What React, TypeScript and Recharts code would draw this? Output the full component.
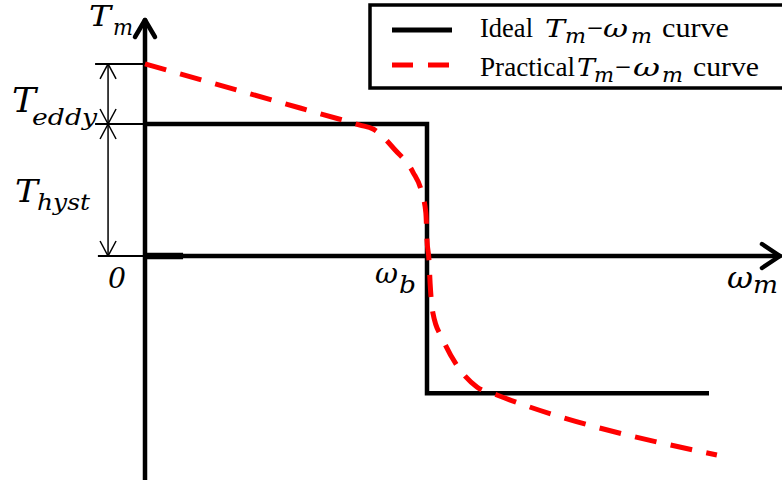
import { ComposedChart, Line, XAxis, YAxis, ReferenceLine, ReferenceDot, Legend } from 'recharts'

const W = 782
const H = 485

// origin position in the frame and the length of one unit on each axis (px)
const X0 = 145
const Y0 = 256
const XU = 282
const YU = 132

// ideal torque-speed curve: constant torque up to ω_b, then reversed
const idealW = [0, 1, 1, 2]
const idealT = [1, 1, -1.04, -1.04]

// practical curve: eddy torque adds a slope, corners are rounded near ω_b
const practicalW = [0, 0.55, 0.762, 0.809, 0.887, 0.95, 0.982, 0.996, 1.0, 1.007, 1.011, 1.021, 1.057, 1.11, 1.177, 1.248, 2.028]
const practicalT = [1.455, 1.121, 0.992, 0.962, 0.803, 0.636, 0.477, 0.326, 0.121, -0.03, -0.205, -0.432, -0.636, -0.841, -0.992, -1.053, -1.508]

// torque levels marked by the dimension arrows
const tEddyTop = 1.455
const tHyst = 1
const dimW = -0.131
const tickStart = [-0.177, -0.177, -0.167]

const idealData = idealW.map((w, i) => ({ w, t: idealT[i] }))
const practicalData = practicalW.map((w, i) => ({ w, t: practicalT[i] }))

const MATH = "'DejaVu Serif', 'Liberation Serif', serif"
const TEXT = "'Liberation Serif', 'Times New Roman', serif"

type Piece = { s: string; dx: number; dy: number; size: number; w?: number }

function mathLabel(pieces: Piece[]) {
  return (p: any) => (
    <g>
      {pieces.map((q, i) => (
        <text
          key={i}
          x={p.cx + q.dx}
          y={p.cy + q.dy}
          fontSize={q.size}
          fontStyle="italic"
          fontFamily={MATH}
          fill="#000"
          {...(q.w ? { textLength: q.w, lengthAdjust: 'spacingAndGlyphs' } : {})}
        >
          {q.s}
        </text>
      ))}
    </g>
  )
}

// open chevron arrowhead: two segments ending at the tip
function chevron(x: number, y: number, dir: 'up' | 'down' | 'right', ax: number, ay: number) {
  if (dir === 'right') {
    return [
      [{ x: x - ax, y: y + ay }, { x, y }],
      [{ x: x - ax, y: y - ay }, { x, y }],
    ]
  }
  const back = dir === 'up' ? y - ay : y + ay
  return [
    [{ x: x - ax, y: back }, { x, y }],
    [{ x: x + ax, y: back }, { x, y }],
  ]
}

const yTip = (Y0 - 20) / YU
const xTip = (780 - X0) / XU

const axisArrows = [
  ...chevron(0, yTip, 'up', 10 / XU, 17 / YU),
  ...chevron(xTip, 0, 'right', 18 / XU, 12 / YU),
]

const dimArrows = [
  ...chevron(dimW, tEddyTop, 'up', 8 / XU, 15 / YU),
  ...chevron(dimW, tHyst, 'down', 8 / XU, 15 / YU),
  ...chevron(dimW, tHyst, 'up', 8 / XU, 15 / YU),
  ...chevron(dimW, 0, 'down', 8 / XU, 15 / YU),
]

function LegendBox() {
  const txt = (s: string, x: number, y: number, size: number, w: number, italic = false) => (
    <text x={x} y={y} fontSize={size} fontFamily={italic ? MATH : TEXT} fontStyle={italic ? 'italic' : 'normal'}
      fill="#000" textLength={w} lengthAdjust="spacingAndGlyphs">{s}</text>
  )
  return (
    <svg width={W} height={96} style={{ display: 'block', overflow: 'hidden' }}>
      <rect x={370} y={5} width={440} height={83} fill="#fff" stroke="#000" strokeWidth={3.5} />
      <line x1={392} x2={452} y1={30} y2={30} stroke="#000" strokeWidth={5} />
      <line x1={392} x2={452} y1={65} y2={65} stroke="#ff0000" strokeWidth={5} strokeDasharray="21 15" />
      {txt('Ideal', 480, 37, 27, 53)}
      {txt('T', 545, 37, 25, 20, true)}
      {txt('m', 565, 43, 21, 21, true)}
      {txt('\u2212', 587, 37, 27, 16)}
      {txt('\u03c9', 603, 37, 24, 25, true)}
      {txt('m', 631, 43, 21, 21, true)}
      {txt('curve', 662, 37, 27, 67)}
      {txt('Practical', 480, 76, 27, 95)}
      {txt('T', 577, 76, 25, 18, true)}
      {txt('m', 594, 82, 21, 20, true)}
      {txt('\u2212', 615, 76, 27, 16)}
      {txt('\u03c9', 633, 76, 24, 27, true)}
      {txt('m', 662, 82, 21, 21, true)}
      {txt('curve', 693, 76, 27, 66)}
    </svg>
  )
}

export default function App() {
  return (
    <div style={{ position: 'absolute', left: 0, top: 0, width: W, height: H, background: '#fff' }}>
      <ComposedChart width={W} height={H} margin={{ top: 0, right: 0, bottom: 0, left: 0 }}>
        <XAxis type="number" dataKey="w" hide allowDataOverflow
          domain={[-X0 / XU, (W - X0) / XU]} />
        <YAxis type="number" hide allowDataOverflow
          domain={[(Y0 - H) / YU, Y0 / YU]} />

        {/* axes with open arrowheads */}
        <ReferenceLine segment={[{ x: 0, y: (Y0 - 480) / YU }, { x: 0, y: yTip }]} stroke="#000" strokeWidth={4.5} />
        <ReferenceLine segment={[{ x: 0, y: 0 }, { x: xTip, y: 0 }]} stroke="#000" strokeWidth={4.5} />
        <ReferenceLine segment={[{ x: 0, y: 0 }, { x: 0.135, y: 0 }]} stroke="#000" strokeWidth={6.5} />
        {axisArrows.map((s, i) => (
          <ReferenceLine key={'ax' + i} segment={s} stroke="#000" strokeWidth={4.5} strokeLinecap="round" />
        ))}

        {/* dimension marks for T_eddy and T_hyst */}
        {[tEddyTop, tHyst, 0].map((t, i) => (
          <ReferenceLine key={'tk' + i} segment={[{ x: tickStart[i], y: t }, { x: 0, y: t }]} stroke="#000" strokeWidth={2} />
        ))}
        <ReferenceLine segment={[{ x: dimW, y: tEddyTop }, { x: dimW, y: 0 }]} stroke="#000" strokeWidth={1.5} />
        {dimArrows.map((s, i) => (
          <ReferenceLine key={'dm' + i} segment={s} stroke="#000" strokeWidth={1.5} />
        ))}

        <Line data={idealData} dataKey="t" type="linear" stroke="#000" strokeWidth={4.5}
          dot={false} activeDot={false} isAnimationActive={false} legendType="none" />
        <Line data={practicalData} dataKey="t" type="monotone" stroke="#ff0000" strokeWidth={5}
          strokeDasharray="22 14.5" dot={false} activeDot={false} isAnimationActive={false} legendType="none" />

        {/* math labels */}
        <ReferenceDot x={0} y={yTip} r={0} shape={mathLabel([
          { s: 'T', dx: -56, dy: 6, size: 28, w: 22 },
          { s: 'm', dx: -32, dy: 15, size: 23, w: 20 },
        ])} />
        <ReferenceDot x={dimW} y={(tEddyTop + tHyst) / 2} r={0} shape={mathLabel([
          { s: 'T', dx: -96, dy: 18, size: 33, w: 24 },
          { s: 'eddy', dx: -76, dy: 31, size: 23, w: 65 },
        ])} />
        <ReferenceDot x={dimW} y={tHyst / 2} r={0} shape={mathLabel([
          { s: 'T', dx: -93, dy: 12, size: 31, w: 23 },
          { s: 'hyst', dx: -71, dy: 20, size: 23, w: 53 },
        ])} />
        <ReferenceDot x={0} y={0} r={0} shape={mathLabel([
          { s: '0', dx: -37, dy: 32, size: 28, w: 18 },
        ])} />
        <ReferenceDot x={1} y={0} r={0} shape={mathLabel([
          { s: '\u03c9', dx: -52, dy: 27, size: 28, w: 23 },
          { s: 'b', dx: -28, dy: 37, size: 24, w: 17 },
        ])} />
        <ReferenceDot x={xTip} y={0} r={0} shape={mathLabel([
          { s: '\u03c9', dx: -53, dy: 32, size: 29, w: 26 },
          { s: 'm', dx: -27, dy: 37, size: 24, w: 25 },
        ])} />

        <Legend layout="horizontal" verticalAlign="middle" align="center"
          wrapperStyle={{ left: 0, top: 0, width: W, height: 96 }}
          content={() => <LegendBox />} />
      </ComposedChart>
    </div>
  )
}
